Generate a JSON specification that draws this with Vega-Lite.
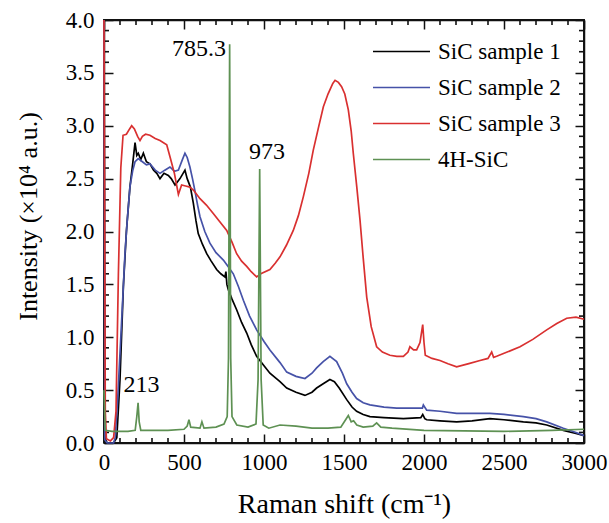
{
"$schema": "https://vega.github.io/schema/vega-lite/v6.json",
"width": 480, "height": 423,
"autosize": {"type": "none"},
"padding": {"left": 104, "top": 20, "right": 25, "bottom": 80},
"background": "white",
"datasets": {
"spectra": [
{"s":"SiC sample 1","x":0,"y":4.0},{"s":"SiC sample 1","x":5,"y":0.05},{"s":"SiC sample 1","x":20,"y":0.0},{"s":"SiC sample 1","x":60,"y":0.0},{"s":"SiC sample 1","x":80,"y":0.05},{"s":"SiC sample 1","x":100,"y":0.6},{"s":"SiC sample 1","x":121,"y":1.48},{"s":"SiC sample 1","x":140,"y":2.0},{"s":"SiC sample 1","x":162,"y":2.42},{"s":"SiC sample 1","x":180,"y":2.65},{"s":"SiC sample 1","x":194,"y":2.84},{"s":"SiC sample 1","x":205,"y":2.72},{"s":"SiC sample 1","x":214,"y":2.74},{"s":"SiC sample 1","x":230,"y":2.68},{"s":"SiC sample 1","x":246,"y":2.74},{"s":"SiC sample 1","x":265,"y":2.66},{"s":"SiC sample 1","x":287,"y":2.64},{"s":"SiC sample 1","x":310,"y":2.58},{"s":"SiC sample 1","x":330,"y":2.55},{"s":"SiC sample 1","x":350,"y":2.5},{"s":"SiC sample 1","x":375,"y":2.55},{"s":"SiC sample 1","x":402,"y":2.53},{"s":"SiC sample 1","x":420,"y":2.5},{"s":"SiC sample 1","x":444,"y":2.44},{"s":"SiC sample 1","x":475,"y":2.5},{"s":"SiC sample 1","x":506,"y":2.58},{"s":"SiC sample 1","x":520,"y":2.5},{"s":"SiC sample 1","x":540,"y":2.42},{"s":"SiC sample 1","x":558,"y":2.27},{"s":"SiC sample 1","x":575,"y":2.1},{"s":"SiC sample 1","x":589,"y":1.98},{"s":"SiC sample 1","x":615,"y":1.88},{"s":"SiC sample 1","x":642,"y":1.79},{"s":"SiC sample 1","x":670,"y":1.72},{"s":"SiC sample 1","x":704,"y":1.64},{"s":"SiC sample 1","x":730,"y":1.6},{"s":"SiC sample 1","x":756,"y":1.57},{"s":"SiC sample 1","x":762,"y":1.62},{"s":"SiC sample 1","x":768,"y":1.5},{"s":"SiC sample 1","x":777,"y":1.45},{"s":"SiC sample 1","x":800,"y":1.36},{"s":"SiC sample 1","x":829,"y":1.26},{"s":"SiC sample 1","x":860,"y":1.14},{"s":"SiC sample 1","x":892,"y":1.04},{"s":"SiC sample 1","x":920,"y":0.93},{"s":"SiC sample 1","x":954,"y":0.82},{"s":"SiC sample 1","x":1000,"y":0.73},{"s":"SiC sample 1","x":1037,"y":0.66},{"s":"SiC sample 1","x":1100,"y":0.58},{"s":"SiC sample 1","x":1142,"y":0.52},{"s":"SiC sample 1","x":1200,"y":0.48},{"s":"SiC sample 1","x":1256,"y":0.45},{"s":"SiC sample 1","x":1300,"y":0.48},{"s":"SiC sample 1","x":1329,"y":0.52},{"s":"SiC sample 1","x":1370,"y":0.56},{"s":"SiC sample 1","x":1412,"y":0.6},{"s":"SiC sample 1","x":1440,"y":0.58},{"s":"SiC sample 1","x":1470,"y":0.52},{"s":"SiC sample 1","x":1517,"y":0.41},{"s":"SiC sample 1","x":1550,"y":0.34},{"s":"SiC sample 1","x":1579,"y":0.3},{"s":"SiC sample 1","x":1620,"y":0.27},{"s":"SiC sample 1","x":1662,"y":0.25},{"s":"SiC sample 1","x":1750,"y":0.24},{"s":"SiC sample 1","x":1871,"y":0.23},{"s":"SiC sample 1","x":1980,"y":0.24},{"s":"SiC sample 1","x":1992,"y":0.27},{"s":"SiC sample 1","x":2005,"y":0.23},{"s":"SiC sample 1","x":2017,"y":0.22},{"s":"SiC sample 1","x":2100,"y":0.21},{"s":"SiC sample 1","x":2204,"y":0.2},{"s":"SiC sample 1","x":2300,"y":0.21},{"s":"SiC sample 1","x":2412,"y":0.23},{"s":"SiC sample 1","x":2500,"y":0.22},{"s":"SiC sample 1","x":2621,"y":0.2},{"s":"SiC sample 1","x":2700,"y":0.19},{"s":"SiC sample 1","x":2767,"y":0.17},{"s":"SiC sample 1","x":2871,"y":0.12},{"s":"SiC sample 1","x":2950,"y":0.09},{"s":"SiC sample 1","x":3000,"y":0.07},
{"s":"SiC sample 2","x":0,"y":4.0},{"s":"SiC sample 2","x":5,"y":0.03},{"s":"SiC sample 2","x":20,"y":0.0},{"s":"SiC sample 2","x":60,"y":0.0},{"s":"SiC sample 2","x":70,"y":0.05},{"s":"SiC sample 2","x":85,"y":0.4},{"s":"SiC sample 2","x":100,"y":0.85},{"s":"SiC sample 2","x":115,"y":1.3},{"s":"SiC sample 2","x":131,"y":1.79},{"s":"SiC sample 2","x":145,"y":2.1},{"s":"SiC sample 2","x":162,"y":2.42},{"s":"SiC sample 2","x":180,"y":2.58},{"s":"SiC sample 2","x":194,"y":2.66},{"s":"SiC sample 2","x":214,"y":2.69},{"s":"SiC sample 2","x":240,"y":2.66},{"s":"SiC sample 2","x":265,"y":2.63},{"s":"SiC sample 2","x":287,"y":2.64},{"s":"SiC sample 2","x":320,"y":2.58},{"s":"SiC sample 2","x":350,"y":2.55},{"s":"SiC sample 2","x":380,"y":2.58},{"s":"SiC sample 2","x":412,"y":2.61},{"s":"SiC sample 2","x":440,"y":2.57},{"s":"SiC sample 2","x":465,"y":2.58},{"s":"SiC sample 2","x":490,"y":2.68},{"s":"SiC sample 2","x":506,"y":2.74},{"s":"SiC sample 2","x":520,"y":2.7},{"s":"SiC sample 2","x":537,"y":2.61},{"s":"SiC sample 2","x":553,"y":2.5},{"s":"SiC sample 2","x":569,"y":2.38},{"s":"SiC sample 2","x":585,"y":2.25},{"s":"SiC sample 2","x":600,"y":2.14},{"s":"SiC sample 2","x":630,"y":2.0},{"s":"SiC sample 2","x":662,"y":1.89},{"s":"SiC sample 2","x":700,"y":1.8},{"s":"SiC sample 2","x":746,"y":1.73},{"s":"SiC sample 2","x":780,"y":1.66},{"s":"SiC sample 2","x":808,"y":1.6},{"s":"SiC sample 2","x":840,"y":1.48},{"s":"SiC sample 2","x":871,"y":1.35},{"s":"SiC sample 2","x":910,"y":1.2},{"s":"SiC sample 2","x":954,"y":1.07},{"s":"SiC sample 2","x":1000,"y":0.96},{"s":"SiC sample 2","x":1037,"y":0.88},{"s":"SiC sample 2","x":1100,"y":0.76},{"s":"SiC sample 2","x":1142,"y":0.67},{"s":"SiC sample 2","x":1200,"y":0.63},{"s":"SiC sample 2","x":1256,"y":0.61},{"s":"SiC sample 2","x":1300,"y":0.66},{"s":"SiC sample 2","x":1329,"y":0.71},{"s":"SiC sample 2","x":1370,"y":0.77},{"s":"SiC sample 2","x":1412,"y":0.82},{"s":"SiC sample 2","x":1454,"y":0.77},{"s":"SiC sample 2","x":1490,"y":0.66},{"s":"SiC sample 2","x":1517,"y":0.56},{"s":"SiC sample 2","x":1550,"y":0.48},{"s":"SiC sample 2","x":1579,"y":0.42},{"s":"SiC sample 2","x":1620,"y":0.38},{"s":"SiC sample 2","x":1662,"y":0.36},{"s":"SiC sample 2","x":1750,"y":0.34},{"s":"SiC sample 2","x":1829,"y":0.33},{"s":"SiC sample 2","x":1990,"y":0.33},{"s":"SiC sample 2","x":1996,"y":0.36},{"s":"SiC sample 2","x":2017,"y":0.31},{"s":"SiC sample 2","x":2100,"y":0.3},{"s":"SiC sample 2","x":2204,"y":0.28},{"s":"SiC sample 2","x":2300,"y":0.28},{"s":"SiC sample 2","x":2412,"y":0.28},{"s":"SiC sample 2","x":2500,"y":0.27},{"s":"SiC sample 2","x":2621,"y":0.25},{"s":"SiC sample 2","x":2700,"y":0.23},{"s":"SiC sample 2","x":2767,"y":0.2},{"s":"SiC sample 2","x":2871,"y":0.14},{"s":"SiC sample 2","x":2950,"y":0.1},{"s":"SiC sample 2","x":3000,"y":0.07},
{"s":"SiC sample 3","x":0,"y":4.0},{"s":"SiC sample 3","x":8,"y":0.3},{"s":"SiC sample 3","x":15,"y":0.04},{"s":"SiC sample 3","x":40,"y":0.02},{"s":"SiC sample 3","x":60,"y":0.05},{"s":"SiC sample 3","x":75,"y":0.3},{"s":"SiC sample 3","x":90,"y":1.6},{"s":"SiC sample 3","x":105,"y":2.6},{"s":"SiC sample 3","x":119,"y":2.91},{"s":"SiC sample 3","x":140,"y":2.92},{"s":"SiC sample 3","x":160,"y":2.97},{"s":"SiC sample 3","x":173,"y":3.0},{"s":"SiC sample 3","x":190,"y":2.97},{"s":"SiC sample 3","x":210,"y":2.9},{"s":"SiC sample 3","x":225,"y":2.86},{"s":"SiC sample 3","x":240,"y":2.9},{"s":"SiC sample 3","x":260,"y":2.92},{"s":"SiC sample 3","x":287,"y":2.91},{"s":"SiC sample 3","x":320,"y":2.88},{"s":"SiC sample 3","x":350,"y":2.86},{"s":"SiC sample 3","x":392,"y":2.82},{"s":"SiC sample 3","x":412,"y":2.71},{"s":"SiC sample 3","x":440,"y":2.55},{"s":"SiC sample 3","x":465,"y":2.35},{"s":"SiC sample 3","x":485,"y":2.44},{"s":"SiC sample 3","x":510,"y":2.43},{"s":"SiC sample 3","x":537,"y":2.42},{"s":"SiC sample 3","x":560,"y":2.39},{"s":"SiC sample 3","x":600,"y":2.31},{"s":"SiC sample 3","x":640,"y":2.25},{"s":"SiC sample 3","x":683,"y":2.17},{"s":"SiC sample 3","x":720,"y":2.1},{"s":"SiC sample 3","x":767,"y":2.01},{"s":"SiC sample 3","x":800,"y":1.9},{"s":"SiC sample 3","x":829,"y":1.79},{"s":"SiC sample 3","x":860,"y":1.72},{"s":"SiC sample 3","x":892,"y":1.67},{"s":"SiC sample 3","x":920,"y":1.62},{"s":"SiC sample 3","x":954,"y":1.57},{"s":"SiC sample 3","x":980,"y":1.6},{"s":"SiC sample 3","x":1037,"y":1.64},{"s":"SiC sample 3","x":1070,"y":1.7},{"s":"SiC sample 3","x":1100,"y":1.76},{"s":"SiC sample 3","x":1140,"y":1.87},{"s":"SiC sample 3","x":1183,"y":2.01},{"s":"SiC sample 3","x":1215,"y":2.15},{"s":"SiC sample 3","x":1246,"y":2.33},{"s":"SiC sample 3","x":1280,"y":2.55},{"s":"SiC sample 3","x":1308,"y":2.77},{"s":"SiC sample 3","x":1340,"y":2.98},{"s":"SiC sample 3","x":1371,"y":3.18},{"s":"SiC sample 3","x":1400,"y":3.3},{"s":"SiC sample 3","x":1430,"y":3.4},{"s":"SiC sample 3","x":1444,"y":3.43},{"s":"SiC sample 3","x":1465,"y":3.41},{"s":"SiC sample 3","x":1485,"y":3.37},{"s":"SiC sample 3","x":1505,"y":3.3},{"s":"SiC sample 3","x":1527,"y":3.15},{"s":"SiC sample 3","x":1545,"y":2.95},{"s":"SiC sample 3","x":1558,"y":2.74},{"s":"SiC sample 3","x":1580,"y":2.42},{"s":"SiC sample 3","x":1600,"y":2.11},{"s":"SiC sample 3","x":1620,"y":1.75},{"s":"SiC sample 3","x":1642,"y":1.38},{"s":"SiC sample 3","x":1670,"y":1.1},{"s":"SiC sample 3","x":1704,"y":0.91},{"s":"SiC sample 3","x":1740,"y":0.86},{"s":"SiC sample 3","x":1787,"y":0.83},{"s":"SiC sample 3","x":1830,"y":0.82},{"s":"SiC sample 3","x":1871,"y":0.82},{"s":"SiC sample 3","x":1900,"y":0.86},{"s":"SiC sample 3","x":1912,"y":0.91},{"s":"SiC sample 3","x":1935,"y":0.88},{"s":"SiC sample 3","x":1954,"y":0.88},{"s":"SiC sample 3","x":1975,"y":0.95},{"s":"SiC sample 3","x":1992,"y":1.12},{"s":"SiC sample 3","x":2000,"y":0.95},{"s":"SiC sample 3","x":2008,"y":0.83},{"s":"SiC sample 3","x":2050,"y":0.8},{"s":"SiC sample 3","x":2100,"y":0.78},{"s":"SiC sample 3","x":2150,"y":0.75},{"s":"SiC sample 3","x":2204,"y":0.72},{"s":"SiC sample 3","x":2280,"y":0.75},{"s":"SiC sample 3","x":2350,"y":0.78},{"s":"SiC sample 3","x":2400,"y":0.8},{"s":"SiC sample 3","x":2423,"y":0.86},{"s":"SiC sample 3","x":2435,"y":0.81},{"s":"SiC sample 3","x":2454,"y":0.82},{"s":"SiC sample 3","x":2520,"y":0.86},{"s":"SiC sample 3","x":2600,"y":0.91},{"s":"SiC sample 3","x":2680,"y":0.98},{"s":"SiC sample 3","x":2767,"y":1.07},{"s":"SiC sample 3","x":2830,"y":1.13},{"s":"SiC sample 3","x":2892,"y":1.18},{"s":"SiC sample 3","x":2950,"y":1.19},{"s":"SiC sample 3","x":3000,"y":1.17},
{"s":"4H-SiC","x":0,"y":0.5},{"s":"4H-SiC","x":8,"y":0.12},{"s":"4H-SiC","x":50,"y":0.11},{"s":"4H-SiC","x":150,"y":0.11},{"s":"4H-SiC","x":195,"y":0.12},{"s":"4H-SiC","x":205,"y":0.25},{"s":"4H-SiC","x":213,"y":0.38},{"s":"4H-SiC","x":220,"y":0.2},{"s":"4H-SiC","x":230,"y":0.12},{"s":"4H-SiC","x":400,"y":0.12},{"s":"4H-SiC","x":500,"y":0.13},{"s":"4H-SiC","x":520,"y":0.16},{"s":"4H-SiC","x":531,"y":0.22},{"s":"4H-SiC","x":542,"y":0.15},{"s":"4H-SiC","x":600,"y":0.14},{"s":"4H-SiC","x":612,"y":0.2},{"s":"4H-SiC","x":625,"y":0.14},{"s":"4H-SiC","x":700,"y":0.15},{"s":"4H-SiC","x":750,"y":0.18},{"s":"4H-SiC","x":770,"y":0.25},{"s":"4H-SiC","x":778,"y":0.8},{"s":"4H-SiC","x":785.3,"y":3.77},{"s":"4H-SiC","x":792,"y":0.8},{"s":"4H-SiC","x":800,"y":0.25},{"s":"4H-SiC","x":830,"y":0.17},{"s":"4H-SiC","x":900,"y":0.15},{"s":"4H-SiC","x":950,"y":0.18},{"s":"4H-SiC","x":963,"y":0.6},{"s":"4H-SiC","x":973,"y":2.59},{"s":"4H-SiC","x":982,"y":0.6},{"s":"4H-SiC","x":995,"y":0.17},{"s":"4H-SiC","x":1030,"y":0.14},{"s":"4H-SiC","x":1100,"y":0.17},{"s":"4H-SiC","x":1200,"y":0.16},{"s":"4H-SiC","x":1300,"y":0.14},{"s":"4H-SiC","x":1400,"y":0.14},{"s":"4H-SiC","x":1480,"y":0.15},{"s":"4H-SiC","x":1510,"y":0.22},{"s":"4H-SiC","x":1527,"y":0.26},{"s":"4H-SiC","x":1545,"y":0.2},{"s":"4H-SiC","x":1560,"y":0.21},{"s":"4H-SiC","x":1580,"y":0.17},{"s":"4H-SiC","x":1620,"y":0.15},{"s":"4H-SiC","x":1680,"y":0.16},{"s":"4H-SiC","x":1704,"y":0.19},{"s":"4H-SiC","x":1730,"y":0.15},{"s":"4H-SiC","x":1800,"y":0.14},{"s":"4H-SiC","x":2000,"y":0.12},{"s":"4H-SiC","x":2500,"y":0.11},{"s":"4H-SiC","x":2800,"y":0.12},{"s":"4H-SiC","x":3000,"y":0.13}
],
"ann": [
{"label":"785.3","x":594,"y":3.73},
{"label":"973","x":1019,"y":2.75},
{"label":"213","x":235,"y":0.55}
],
"frame": [{"i":0,"x":0,"y":0},{"i":1,"x":3000,"y":0},{"i":2,"x":3000,"y":4},{"i":3,"x":0,"y":4},{"i":4,"x":0,"y":0}],
"xmin": [{"v":100},{"v":200},{"v":300},{"v":400},{"v":600},{"v":700},{"v":800},{"v":900},{"v":1100},{"v":1200},{"v":1300},{"v":1400},{"v":1600},{"v":1700},{"v":1800},{"v":1900},{"v":2100},{"v":2200},{"v":2300},{"v":2400},{"v":2600},{"v":2700},{"v":2800},{"v":2900}],
"ymin": [{"v":0.1},{"v":0.2},{"v":0.3},{"v":0.4},{"v":0.6},{"v":0.7},{"v":0.8},{"v":0.9},{"v":1.1},{"v":1.2},{"v":1.3},{"v":1.4},{"v":1.6},{"v":1.7},{"v":1.8},{"v":1.9},{"v":2.1},{"v":2.2},{"v":2.3},{"v":2.4},{"v":2.6},{"v":2.7},{"v":2.8},{"v":2.9},{"v":3.1},{"v":3.2},{"v":3.3},{"v":3.4},{"v":3.6},{"v":3.7},{"v":3.8},{"v":3.9}]
},
"layer": [
{"data": {"name": "frame"}, "mark": {"type": "line", "color": "#111111", "strokeWidth": 1.8},
 "encoding": {"x": {"field": "x", "type": "quantitative", "scale": {"domain": [0, 3000], "nice": false, "zero": false}, "axis": null}, "y": {"field": "y", "type": "quantitative", "scale": {"domain": [0, 4], "nice": false, "zero": false}, "axis": null}, "order": {"field": "i"}}},
{"data": {"name": "xmin"}, "mark": {"type": "point", "shape": "M0,0V-1", "size": 100, "filled": false, "stroke": "#111111", "strokeWidth": 1.6, "opacity": 1},
 "encoding": {"x": {"field": "v", "type": "quantitative", "scale": {"domain": [0, 3000], "nice": false, "zero": false}, "axis": null}, "y": {"datum": 0, "type": "quantitative", "scale": {"domain": [0, 4], "nice": false, "zero": false}, "axis": null}}},
{"data": {"name": "xmin"}, "mark": {"type": "point", "shape": "M0,0V1", "size": 100, "filled": false, "stroke": "#111111", "strokeWidth": 1.6, "opacity": 1},
 "encoding": {"x": {"field": "v", "type": "quantitative", "scale": {"domain": [0, 3000], "nice": false, "zero": false}, "axis": null}, "y": {"datum": 4, "type": "quantitative", "scale": {"domain": [0, 4], "nice": false, "zero": false}, "axis": null}}},
{"data": {"name": "ymin"}, "mark": {"type": "point", "shape": "M0,0H1", "size": 100, "filled": false, "stroke": "#111111", "strokeWidth": 1.6, "opacity": 1},
 "encoding": {"y": {"field": "v", "type": "quantitative", "scale": {"domain": [0, 4], "nice": false, "zero": false}, "axis": null}, "x": {"datum": 0, "type": "quantitative", "scale": {"domain": [0, 3000], "nice": false, "zero": false}, "axis": null}}},
{"data": {"name": "ymin"}, "mark": {"type": "point", "shape": "M0,0H-1", "size": 100, "filled": false, "stroke": "#111111", "strokeWidth": 1.6, "opacity": 1},
 "encoding": {"y": {"field": "v", "type": "quantitative", "scale": {"domain": [0, 4], "nice": false, "zero": false}, "axis": null}, "x": {"datum": 3000, "type": "quantitative", "scale": {"domain": [0, 3000], "nice": false, "zero": false}, "axis": null}}},
{
"data": {"name": "ann"},
"mark": {"type": "text", "font": "Liberation Serif", "fontSize": 24, "color": "black", "align": "center", "baseline": "middle"},
"encoding": {
"x": {"field": "x", "type": "quantitative", "scale": {"domain": [0, 3000], "nice": false, "zero": false},
"axis": {"orient": "top", "values": [0,500,1000,1500,2000,2500,3000], "labels": false, "domain": true, "domainColor": "#111111", "domainWidth": 1.5, "ticks": true, "tickSize": -9, "tickWidth": 1.5, "tickColor": "#111111", "grid": false, "title": null}},
"y": {"field": "y", "type": "quantitative", "scale": {"domain": [0, 4], "nice": false, "zero": false},
"axis": {"orient": "right", "values": [0,0.5,1,1.5,2,2.5,3,3.5,4], "labels": false, "domain": true, "domainColor": "#111111", "domainWidth": 1.5, "ticks": true, "tickSize": -9, "tickWidth": 1.5, "tickColor": "#111111", "grid": false, "title": null}},
"text": {"field": "label"}
}
},
{
"data": {"name": "spectra"},
"mark": {"type": "line", "strokeWidth": 1.7},
"encoding": {
"x": {"field": "x", "type": "quantitative", "scale": {"domain": [0, 3000], "nice": false, "zero": false},
"axis": {"orient": "bottom", "values": [0,500,1000,1500,2000,2500,3000], "format": "d", "ticks": true, "tickSize": -9, "tickWidth": 1.5, "tickColor": "#111111", "domain": true, "domainColor": "#111111", "domainWidth": 1.5, "grid": false, "labelFont": "Liberation Serif", "labelFontSize": 23, "labelColor": "black", "labelPadding": 17, "labelFlush": false, "labelOverlap": false, "title": "Raman shift (cm⁻¹)", "titleFont": "Liberation Serif", "titleFontSize": 28, "titleFontWeight": "normal", "titleColor": "black", "titlePadding": 16}},
"y": {"field": "y", "type": "quantitative", "scale": {"domain": [0, 4], "nice": false, "zero": false},
"axis": {"orient": "left", "values": [0,0.5,1,1.5,2,2.5,3,3.5,4], "format": ".1f", "ticks": true, "tickSize": -9, "tickWidth": 1.5, "tickColor": "#111111", "domain": true, "domainColor": "#111111", "domainWidth": 1.5, "grid": false, "labelFont": "Liberation Serif", "labelFontSize": 23, "labelColor": "black", "labelPadding": 19, "labelFlush": false, "labelOverlap": false, "title": "Intensity (×10⁴ a.u.)", "titleFont": "Liberation Serif", "titleFontSize": 26, "titleFontWeight": "normal", "titleColor": "black", "titlePadding": 24, "titleY": 196}},
"color": {"field": "s", "type": "nominal",
"scale": {"domain": ["SiC sample 1", "SiC sample 2", "SiC sample 3", "4H-SiC"], "range": ["#000000", "#4652A8", "#D93030", "#5E9153"]},
"legend": {"title": null, "orient": "none", "legendX": 286, "legendY": 20, "symbolType": "M-3,0H3", "symbolSize": 361, "symbolStrokeWidth": 1.5, "symbolFillColor": "transparent", "labelFont": "Liberation Serif", "labelFontSize": 23, "labelColor": "black", "labelOffset": 25, "rowPadding": 12, "labelLimit": 300}}
}
}
],
"resolve": {"axis": {"x": "independent", "y": "independent"}},
"config": {"view": {"stroke": "#111111", "strokeWidth": 1.5}}
}
